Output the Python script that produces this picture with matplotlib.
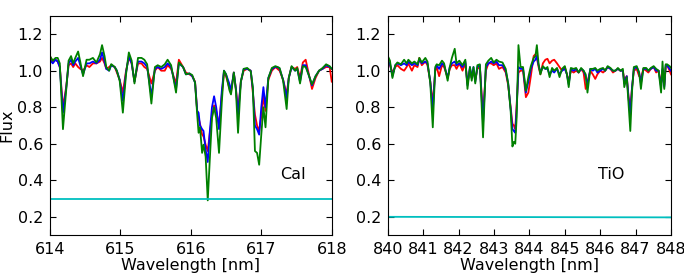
import matplotlib
matplotlib.use("Agg")
import matplotlib.pyplot as plt

plt.rcParams['font.family'] = ['DejaVu Sans']
plt.rcParams['font.size'] = 11.5

# CaI window
wl_cai = [614.00, 614.04, 614.08, 614.11, 614.14, 614.185, 614.23, 614.265, 614.30, 614.33,
          614.36, 614.40, 614.43, 614.47, 614.52, 614.56, 614.61, 614.66, 614.71, 614.74,
          614.775, 614.80, 614.84, 614.87, 614.92, 614.95, 614.99, 615.035, 615.08, 615.12,
          615.16, 615.20, 615.25, 615.30, 615.34, 615.38, 615.44, 615.49, 615.53, 615.58,
          615.63, 615.67, 615.72, 615.79, 615.83, 615.89, 615.93, 615.98, 616.02, 616.06,
          616.09, 616.11, 616.13, 616.16, 616.18, 616.21, 616.24, 616.27, 616.30, 616.33,
          616.36, 616.40, 616.44, 616.47, 616.50, 616.55, 616.57, 616.61, 616.64, 616.67,
          616.71, 616.75, 616.80, 616.85, 616.88, 616.91, 616.94, 616.97, 617.00, 617.03,
          617.06, 617.10, 617.15, 617.20, 617.23, 617.26, 617.31, 617.36, 617.39, 617.43,
          617.48, 617.51, 617.55, 617.59, 617.63, 617.67, 617.72, 617.77, 617.82, 617.87,
          617.92, 617.97, 618.00]
red_cai = [1.08, 1.05, 1.06, 1.05, 1.02, 0.80, 0.91, 1.03, 1.04, 1.02,
           1.04, 1.02, 1.01, 1.00, 1.03, 1.02, 1.04, 1.04, 1.05, 1.07,
           1.04, 1.01, 1.02, 1.03, 1.02, 0.99, 0.95, 0.88, 1.00, 1.07,
           1.04, 0.94, 1.04, 1.04, 1.02, 1.01, 0.93, 1.00, 1.02, 1.00,
           1.00, 1.03, 1.01, 0.93, 1.06, 1.02, 0.99, 0.98, 0.97, 0.94,
           0.78, 0.74, 0.71, 0.65, 0.64, 0.595, 0.56, 0.66, 0.75, 0.81,
           0.78, 0.70, 0.87, 0.99, 0.97, 0.90, 0.88, 0.99, 0.90, 0.78,
           0.94, 1.00, 1.01, 1.00, 0.88, 0.76, 0.70, 0.67, 0.75, 0.86,
           0.78, 0.95, 1.00, 1.02, 1.01, 1.00, 0.95, 0.87, 0.96, 1.02,
           1.01, 1.02, 0.96, 1.045, 1.06, 0.99, 0.90, 0.96, 1.00, 1.01,
           1.02, 1.02, 0.94]
blue_cai = [1.06, 1.04, 1.06, 1.05, 1.02, 0.77, 0.90, 1.04, 1.06, 1.03,
            1.05, 1.07, 1.03, 0.98, 1.04, 1.04, 1.05, 1.04, 1.06, 1.10,
            1.05, 1.01, 1.00, 1.03, 1.02, 1.00, 0.95, 0.835, 0.99, 1.08,
            1.04, 0.94, 1.05, 1.05, 1.04, 1.02, 0.86, 1.01, 1.02, 1.01,
            1.02, 1.04, 1.02, 0.90, 1.04, 1.02, 0.98, 0.985, 0.97, 0.935,
            0.78, 0.77, 0.70, 0.68, 0.67, 0.567, 0.50, 0.67, 0.80, 0.86,
            0.80, 0.68, 0.89, 1.00, 0.98, 0.925, 0.89, 0.99, 0.90, 0.76,
            0.94, 1.01, 1.01, 1.00, 0.90, 0.70, 0.68, 0.65, 0.80, 0.91,
            0.80, 0.96, 1.01, 1.02, 1.02, 1.01, 0.95, 0.85, 0.96, 1.02,
            1.00, 1.01, 0.94, 1.03, 1.03, 0.98, 0.92, 0.97, 1.00, 1.01,
            1.03, 1.02, 1.01]
green_cai = [1.08, 1.055, 1.07, 1.07, 1.04, 0.68, 0.89, 1.055, 1.08, 1.04,
             1.07, 1.105, 1.05, 0.97, 1.06, 1.06, 1.07, 1.045, 1.09, 1.14,
             1.08, 1.02, 1.00, 1.036, 1.02, 1.00, 0.945, 0.77, 0.98, 1.10,
             1.055, 0.93, 1.07, 1.07, 1.06, 1.035, 0.82, 1.02, 1.03, 1.02,
             1.035, 1.06, 1.03, 0.88, 1.045, 1.02, 0.98, 0.985, 0.976, 0.934,
             0.76, 0.66, 0.69, 0.55, 0.595, 0.53, 0.29, 0.52, 0.74, 0.80,
             0.74, 0.55, 0.83, 1.00, 0.98, 0.89, 0.87, 0.99, 0.89, 0.66,
             0.94, 1.01, 1.015, 0.997, 0.91, 0.56, 0.55, 0.485, 0.65, 0.80,
             0.69, 0.96, 1.015, 1.025, 1.02, 1.015, 0.945, 0.79, 0.96, 1.025,
             1.00, 1.015, 0.93, 1.025, 1.02, 0.98, 0.925, 0.97, 1.00, 1.015,
             1.035, 1.025, 1.01]
cyan_wl_cai = [614.0, 618.0]
cyan_cai = [0.30, 0.30]

# TiO window
wl_tio = [840.00, 840.06, 840.13, 840.21, 840.27, 840.37, 840.46, 840.53, 840.58, 840.68,
          840.75, 840.84, 840.89, 840.96, 841.06, 841.12, 841.20, 841.27, 841.34, 841.38,
          841.45, 841.53, 841.59, 841.69, 841.75, 841.81, 841.89, 841.94, 842.02, 842.11,
          842.19, 842.25, 842.32, 842.37, 842.42, 842.47, 842.53, 842.60, 842.69, 842.77,
          842.84, 842.92, 842.99, 843.07, 843.14, 843.24, 843.33, 843.40, 843.47, 843.52,
          843.56, 843.60, 843.64, 843.69, 843.75, 843.82, 843.90, 843.97, 844.04, 844.12,
          844.17, 844.21, 844.26, 844.31, 844.38, 844.45, 844.51, 844.57, 844.64, 844.70,
          844.78, 844.85, 844.92, 845.00, 845.06, 845.11, 845.17, 845.25, 845.32, 845.39,
          845.46, 845.53, 845.59, 845.64, 845.72, 845.79, 845.86, 845.92, 846.00, 846.08,
          846.14, 846.21, 846.29, 846.36, 846.43, 846.50, 846.57, 846.64, 846.68, 846.75,
          846.80, 846.85, 846.90, 846.95, 847.03, 847.10, 847.15, 847.22, 847.30, 847.36,
          847.43, 847.51, 847.58, 847.65, 847.72, 847.76, 847.81, 847.85, 847.89, 847.96,
          848.00]
red_tio = [1.06, 1.03, 0.99, 1.02, 1.03, 1.01, 1.00, 1.02, 1.04, 1.00,
           1.03, 1.02, 1.07, 1.03, 1.05, 1.03, 0.94, 0.82, 1.00, 1.02,
           0.97, 1.03, 1.02, 0.96, 1.01, 1.03, 1.03, 1.01, 1.04, 1.00,
           1.04, 0.93, 1.01, 0.96, 1.00, 0.95, 1.01, 1.02, 0.76, 1.00,
           1.04, 1.04, 1.03, 1.04, 1.01, 1.02, 0.99, 0.92, 0.80, 0.71,
           0.70, 0.68, 0.82, 0.99, 1.00, 1.00, 0.855, 0.88, 0.97, 1.08,
           1.09, 1.07, 1.02, 0.98, 1.04, 1.06, 1.065, 1.04, 1.055, 1.06,
           1.04, 1.02, 1.00, 1.02, 0.98, 0.94, 1.00, 0.99, 1.00, 0.99,
           1.01, 0.99, 0.90, 0.94, 1.00, 0.98, 0.955, 0.98, 1.00, 0.99,
           1.00, 1.02, 1.01, 0.99, 1.00, 1.01, 1.00, 1.00, 0.95, 0.97,
           0.86, 0.80, 0.91, 1.00, 1.01, 0.97, 0.96, 1.01, 1.00, 0.99,
           1.01, 1.02, 0.99, 1.00, 0.93, 1.00, 0.92, 1.02, 1.03, 1.00,
           0.98]
blue_tio = [1.05, 1.04, 0.97, 1.03, 1.04, 1.03, 1.04, 1.03, 1.05, 1.03,
            1.04, 1.03, 1.06, 1.04, 1.05, 1.04, 0.94, 0.78, 1.01, 1.03,
            1.01, 1.04, 1.03, 0.96, 1.02, 1.04, 1.05, 1.03, 1.04, 1.02,
            1.05, 0.92, 1.02, 0.96, 1.02, 0.94, 1.02, 1.03, 0.71, 1.02,
            1.04, 1.05, 1.04, 1.05, 1.03, 1.03, 1.00, 0.93, 0.79, 0.68,
            0.67, 0.66, 0.79, 1.02, 1.01, 1.01, 0.88, 0.94, 1.01, 1.05,
            1.06, 1.08, 1.03, 0.99, 1.02, 1.01, 1.01, 0.98, 1.00, 0.99,
            1.01, 0.98, 1.00, 1.01, 0.98, 0.925, 1.01, 1.00, 1.01, 0.99,
            1.01, 1.00, 0.97, 0.92, 1.01, 1.00, 1.01, 0.99, 1.00, 1.01,
            1.00, 1.02, 1.01, 1.00, 1.00, 1.01, 1.00, 1.00, 0.93, 0.97,
            0.85, 0.76, 0.91, 1.01, 1.02, 0.99, 0.93, 1.01, 1.01, 1.00,
            1.01, 1.02, 1.00, 1.00, 0.91, 1.01, 0.91, 1.03, 1.03, 1.01,
            1.00]
green_tio = [1.08, 1.055, 0.96, 1.03, 1.045, 1.035, 1.06, 1.04, 1.06, 1.04,
             1.05, 1.035, 1.07, 1.045, 1.07, 1.05, 0.93, 0.69, 1.02, 1.035,
             1.03, 1.055, 1.04, 0.945, 1.02, 1.07, 1.12, 1.04, 1.055, 1.03,
             1.06, 0.90, 1.02, 0.945, 1.02, 0.93, 1.03, 1.035, 0.635, 1.035,
             1.055, 1.07, 1.045, 1.06, 1.05, 1.045, 1.01, 0.93, 0.78, 0.585,
             0.61, 0.60, 0.745, 1.14, 1.02, 1.02, 0.89, 0.965, 1.025, 1.07,
             1.08, 1.14, 1.035, 0.98, 1.025, 1.01, 1.02, 0.965, 1.015, 1.00,
             1.015, 0.965, 1.01, 1.025, 0.98, 0.91, 1.015, 1.01, 1.015, 0.99,
             1.015, 1.00, 0.98, 0.88, 1.01, 1.01, 1.015, 1.00, 1.01, 1.015,
             1.00, 1.025, 1.015, 1.00, 1.00, 1.015, 1.00, 1.01, 0.91, 0.965,
             0.82, 0.67, 0.89, 1.02, 1.025, 0.99, 0.90, 1.015, 1.015, 1.00,
             1.015, 1.025, 1.01, 1.00, 0.88, 1.05, 0.90, 1.035, 1.035, 1.025,
             1.015]
cyan_wl_tio = [840.0, 848.0]
cyan_tio = [0.200, 0.197]

fig = plt.figure(figsize=(6.84, 2.74), dpi=100)
ax1 = fig.add_axes([0.073, 0.142, 0.412, 0.8])
ax2 = fig.add_axes([0.567, 0.142, 0.414, 0.8])

panels = [
    (ax1, wl_cai, red_cai, blue_cai, green_cai, cyan_wl_cai, cyan_cai, "CaI", 617.45),
    (ax2, wl_tio, red_tio, blue_tio, green_tio, cyan_wl_tio, cyan_tio, "TiO", 846.3),
]
for ax, wl, r, b, g, cwl, cy, name, tx in panels:
    ax.plot(wl, r, color="red", lw=1.3)
    ax.plot(wl, b, color="blue", lw=1.3)
    ax.plot(wl, g, color="green", lw=1.3)
    ax.plot(cwl, cy, color="c", lw=1.3)
    ax.set_ylim(0.1, 1.3)
    ax.set_yticks([0.2, 0.4, 0.6, 0.8, 1.0, 1.2])
    ax.set_xlabel("Wavelength [nm]", labelpad=1)
    ax.tick_params(direction="in", top=True, right=True, length=4, pad=5)
    ax.text(tx, 0.43, name, ha="center", va="center")

ax1.set_xlim(614, 618)
ax1.set_xticks([614, 615, 616, 617, 618])
ax1.set_ylabel("Flux", labelpad=2)
ax2.set_xlim(840, 848)
ax2.set_xticks(range(840, 849))

fig.savefig("out.png", dpi=100)
